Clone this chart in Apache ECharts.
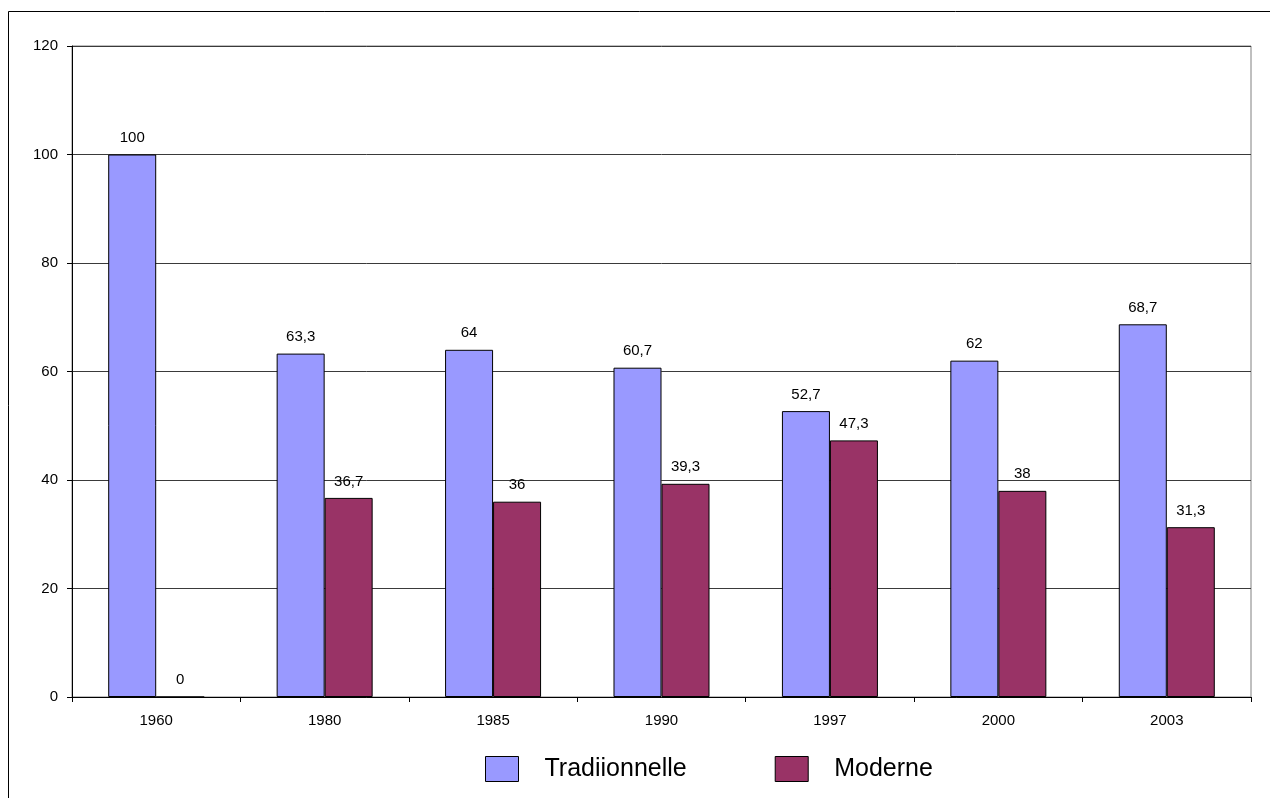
<!DOCTYPE html>
<html>
<head>
<meta charset="utf-8">
<script src="https://cdn.jsdelivr.net/npm/echarts@6/dist/echarts.min.js"></script>
<style>
  html, body { margin: 0; padding: 0; background: #fff; }
  #chart { width: 1270px; height: 798px; }
</style>
</head>
<body>
<div id="chart"></div>
<script>
// Share of traditional vs modern, by year
const years = ['1960', '1980', '1985', '1990', '1997', '2000', '2003'];
const traditionnelle = [100, 63.3, 64, 60.7, 52.7, 62, 68.7];
const moderne = [0, 36.7, 36, 39.3, 47.3, 38, 31.3];
const seriesNames = ['Tradiionnelle', 'Moderne'];

const FONT = 'Liberation Sans, Arial, sans-serif';
const fmt = p => String(p.value).replace('.', ',');
const labelStyle = {
  show: true, position: 'top', distance: 9,
  fontFamily: FONT, fontSize: 15, color: '#000',
  formatter: fmt
};

const chart = echarts.init(document.getElementById('chart'), null, { renderer: 'canvas' });
chart.setOption({
  animation: false,
  backgroundColor: '#fff',
  textStyle: { fontFamily: FONT },
  graphic: [{
    type: 'rect', silent: true, z: -1,
    shape: { x: 8.5, y: 11.5, width: 1400, height: 1000 },
    style: { fill: 'none', stroke: '#000', lineWidth: 1 }
  }],
  grid: {
    left: 72, right: 19, top: 46, bottom: 101,
    show: true, borderColor: '#808080', borderWidth: 1
  },
  legend: {
    left: 485, top: 756, padding: 0,
    itemWidth: 33, itemHeight: 25, itemGap: 88,
    icon: 'rect',
    itemStyle: { borderColor: '#000', borderWidth: 1 },
    textStyle: { fontSize: 25, color: '#000', padding: [0, 0, 0, 21] },
    data: seriesNames
  },
  xAxis: {
    type: 'category', data: years,
    axisLine: { lineStyle: { color: '#000', width: 1 } },
    axisTick: { show: true, length: 5, alignWithLabel: false, lineStyle: { color: '#000' } },
    axisLabel: { fontSize: 15, color: '#000', margin: 16 }
  },
  yAxis: {
    type: 'value', min: 0, max: 120, interval: 20,
    axisLine: { show: true, lineStyle: { color: '#000', width: 1 } },
    axisTick: { show: true, length: 5, lineStyle: { color: '#000' } },
    axisLabel: { fontSize: 15, color: '#000', margin: 14 },
    splitLine: { lineStyle: { color: '#3a3a3a', width: 1 } }
  },
  series: [
    {
      name: seriesNames[0], type: 'bar', data: traditionnelle,
      barWidth: '28.5%', barGap: '0%',
      itemStyle: { color: '#9999FF', borderColor: '#000', borderWidth: 1 },
      label: labelStyle
    },
    {
      name: seriesNames[1], type: 'bar', data: moderne,
      barWidth: '28.5%',
      itemStyle: { color: '#993366', borderColor: '#000', borderWidth: 1 },
      label: labelStyle
    }
  ]
});
</script>
</body>
</html>
